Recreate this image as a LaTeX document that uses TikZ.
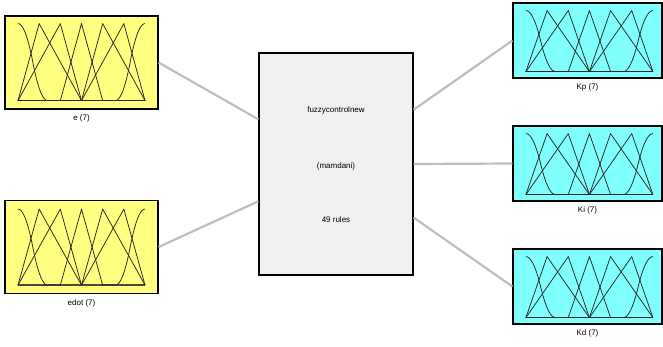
\documentclass[tikz,border=0pt]{standalone}
\usepackage{fontspec}
\setmainfont{Liberation Sans}
\usetikzlibrary{positioning, calc}

\definecolor{inyellow}{RGB}{255,255,128}
\definecolor{outcyan}{RGB}{128,255,255}
\definecolor{sysgray}{RGB}{240,240,240}
\definecolor{wiregray}{RGB}{190,190,190}

% seven membership functions, #1 = middle of the base line, #2 = height
\newcommand{\mfset}[2]{%
  \begin{scope}[shift={#1}, x=21.17pt, y=#2,
      mf line/.style={black!85, line width=0.75pt, line join=round}]
    \draw[mf line] plot[domain=-3:-2.3, samples=20] (\x, {1-2*((\x+3)/1.4)^2})
        -- plot[domain=-2.3:-1.6, samples=20] (\x, {2*((\x+1.6)/1.4)^2}) -- (3,0);
    \draw[mf line] (-3,0) -- (1.6,0)
        -- plot[domain=1.6:2.3, samples=20] (\x, {2*((\x-1.6)/1.4)^2})
        -- plot[domain=2.3:3, samples=20] (\x, {1-2*((\x-3)/1.4)^2});
    \foreach \lo/\pk/\hi in {-3/-2/0, -3/-1/0, -1/0/1, 0/1/3, 0/2/3}
      \draw[mf line] (-3,0) -- (\lo,0) -- (\pk,1) -- (\hi,0) -- (3,0);
  \end{scope}}

\begin{document}
\begin{tikzpicture}[x=1pt, y=-1pt,
                inbox/.style={draw, line width=1.2pt, fill=inyellow,
                    minimum width=153pt, minimum height=93pt, inner sep=0pt},
                outbox/.style={draw, line width=1.2pt, fill=outcyan,
                    minimum width=149pt, minimum height=75pt, inner sep=0pt},
                sysbox/.style={draw, line width=1.2pt, fill=sysgray,
                    minimum width=154pt, minimum height=222pt, inner sep=0pt},
                tag/.style={font=\fontsize{8}{9}\selectfont, inner sep=0pt},
                wire/.style={wiregray, line width=2.2pt}]

            \useasboundingbox (0,0) rectangle (663,346);
            \clip (0,0) rectangle (663,346);

            % inputs, system, outputs
            \node[inbox] (e) at (81.5,62.5) {};
            \node[inbox] (edot) at (81.5,247) {};
            \node[sysbox] (sys) at (336,164) {};
            \node[outbox] (kp) at (587.5,40.5) {};
            \node[outbox] (ki) at (587.5,163.5) {};
            \node[outbox] (kd) at (587.5,286.5) {};

            \mfset{($(e.south)+(0,-9)$)}{77pt}
            \mfset{($(edot.south)+(0,-9)$)}{76pt}
            \mfset{($(kp.south west)+(77,-7)$)}{61pt}
            \mfset{($(ki.south west)+(77,-7)$)}{61pt}
            \mfset{($(kd.south west)+(77,-7)$)}{61pt}

            \node[tag] (sysname) at (336,110) {fuzzycontrolnew};
            \node[tag] (systype) at (336,166) {(mamdani)};
            \node[tag] (sysrules) at (336,220) {49 rules};

            \node[tag, below=5pt of e] (elab) {e (7)};
            \node[tag, below=5pt of edot] (edotlab) {edot (7)};
            \node[tag, below=5pt of kp] (kplab) {Kp (7)};
            \node[tag, below=5pt of ki] (kilab) {Ki (7)};
            \node[tag, below=5pt of kd] (kdlab) {Kd (7)};

            % wires
            \coordinate (sysin1) at ($(sys.north west)!0.3!(sys.south west)$);
            \coordinate (sysin2) at ($(sys.north west)!0.667!(sys.south west)$);
            \coordinate (sysout1) at ($(sys.north east)!0.257!(sys.south east)$);
            \coordinate (sysout2) at ($(sys.north east)!0.5!(sys.south east)$);
            \coordinate (sysout3) at ($(sys.north east)!0.74!(sys.south east)$);
            \draw[wire] (e.east) -- (sysin1);
            \draw[wire] (edot.east) -- (sysin2);
            \draw[wire] (sysout1) -- (kp.west);
            \draw[wire] (sysout2) -- (ki.west);
            \draw[wire] (sysout3) -- (kd.west);
        \end{tikzpicture}
\end{document}
